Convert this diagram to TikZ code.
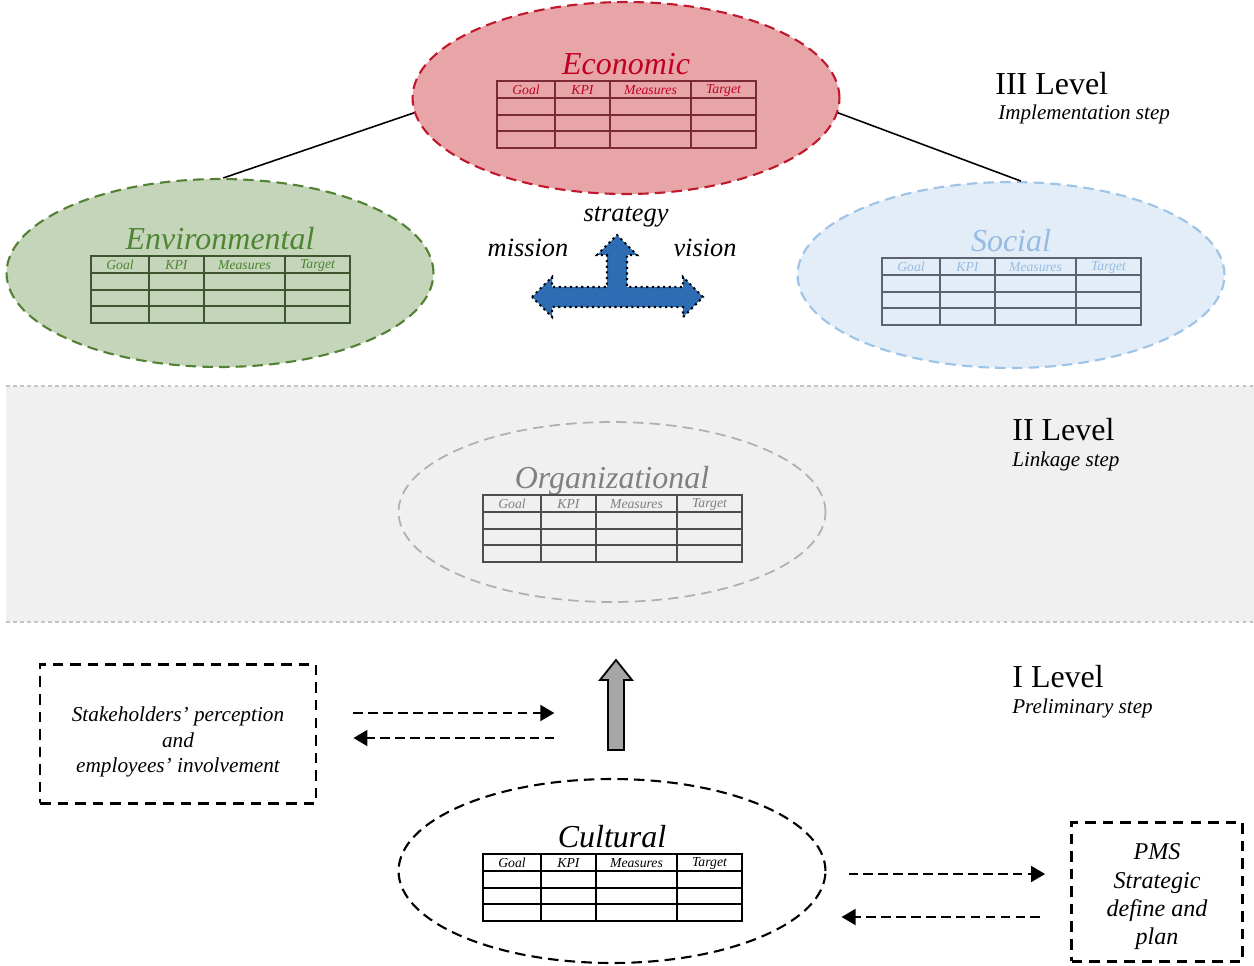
\documentclass[tikz,border=0pt]{standalone}
\usepackage{fontspec}
\setmainfont{Liberation Serif}
\usetikzlibrary{shapes.geometric}
\usetikzlibrary{arrows.meta}
\usetikzlibrary{positioning}
\definecolor{econfill}{HTML}{E8A5A8}
\definecolor{econline}{HTML}{C0182C}
\definecolor{econtext}{HTML}{C00020}
\definecolor{econgrid}{HTML}{7B2B35}
\definecolor{envfill}{HTML}{C4D5B9}
\definecolor{envline}{HTML}{548235}
\definecolor{envtext}{HTML}{4E8533}
\definecolor{envgrid}{HTML}{3E5530}
\definecolor{socfill}{HTML}{E3EDF7}
\definecolor{socline}{HTML}{9DC3E6}
\definecolor{soctext}{HTML}{96BCE3}
\definecolor{socgrid}{HTML}{5C6370}
\definecolor{orgline}{HTML}{B0B0B0}
\definecolor{orgtext}{HTML}{808080}
\definecolor{orggrid}{HTML}{4D4D4D}
\definecolor{bandfill}{HTML}{F0F0F0}
\definecolor{bandline}{HTML}{C4C4C4}
\definecolor{arrowgray}{HTML}{A6A6A6}
\definecolor{arrowblue}{HTML}{2E6DB4}
\newcommand{\kpitable}[3]{%
\begin{scope}[shift={(#1.center)}]
\draw[#2,line width=0.9pt] (-129,-17) rectangle (130,50);
\foreach \x in {-71,-16,65} \draw[#2,line width=0.9pt] (\x,-17) -- (\x,50);
\foreach \y in {0,17,33} \draw[#2,line width=0.9pt] (-129,\y) -- (130,\y);
\foreach \x/\t [count=\i] in {-100/Goal,-43.5/KPI,24.5/Measures,97.5/Target}
\node[kpihead,#3] (#1-h\i) at (\x,-8) {\t};
\end{scope}}

\begin{document}
\begin{tikzpicture}[x=0.02cm,y=-0.02cm]
\tikzset{pillar/.style={ellipse,minimum width=8.54cm,minimum height=3.75cm,line width=1.2pt,dash pattern=on 6pt off 3.5pt},
title/.style={font=\fontsize{18.2}{20}\selectfont\itshape,inner sep=0pt,anchor=base},
kpihead/.style={font=\fontsize{7.8}{8}\selectfont\itshape,inner sep=0pt},
level/.style={font=\fontsize{18.2}{20}\selectfont,inner sep=0pt,anchor=west},
stepname/.style={font=\fontsize{12}{14}\selectfont\itshape,inner sep=0pt,anchor=west},
word/.style={font=\fontsize{15}{17}\selectfont\itshape,inner sep=0pt},
sidebox/.style={rectangle,draw,line width=1.6pt,dash pattern=on 6pt off 4pt,minimum height=2.78cm},
boxtext/.style={align=center,inner sep=0pt},
flow/.style={line width=1.4pt,dash pattern=on 5.5pt off 3pt,-{Triangle[length=8pt,width=9pt]}}}
\useasboundingbox (0,0) rectangle (1254,966);
\fill[bandfill] (6,386) rectangle (1254,622);
\draw[bandline,line width=0.8pt,dash pattern=on 2pt off 2pt] (6,386) -- (1254,386) (6,622) -- (1254,622);
\node[pillar,draw=econline,fill=econfill,minimum height=3.84cm] (econ) at (626,98) {};
\node[pillar,draw=envline,fill=envfill,minimum height=3.76cm] (env) at (220,273) {};
\node[pillar,draw=socline,fill=socfill,minimum height=3.72cm] (soc) at (1011,275) {};
\node[pillar,draw=orgline,line width=1pt,minimum height=3.6cm] (org) at (612,512) {};
\node[pillar,draw=black,minimum height=3.68cm] (cult) at (612,871) {};
\node[title,econtext] (econ-t) at ([yshift=0.48cm]econ.center) {Economic};
\node[title,envtext] (env-t) at ([yshift=0.48cm]env.center) {Environmental};
\node[title,soctext] (soc-t) at ([yshift=0.48cm]soc.center) {Social};
\node[title,orgtext] (org-t) at ([yshift=0.48cm]org.center) {Organizational};
\node[title] (cult-t) at ([yshift=0.48cm]cult.center) {Cultural};
\kpitable{econ}{econgrid}{econtext}
\kpitable{env}{envgrid}{envtext}
\kpitable{soc}{socgrid}{soctext}
\kpitable{org}{orggrid}{orgtext}
\kpitable{cult}{black}{black}
\draw[line width=0.9pt] (econ.184) -- (env.88);
\draw[line width=0.9pt] (econ.-4) -- (soc.84);
\draw[fill=arrowblue,line width=1.2pt,dotted] (532,297) -- (552,277) -- (552,287) -- (607,287) -- (607,255) -- (597,255) -- (617,235) -- (637,255) -- (627,255) -- (627,287) -- (683,287) -- (683,277) -- (703,297) -- (683,317) -- (683,307) -- (552,307) -- (552,317) -- cycle;
\node[word] (strat) at (626,217) {strategy};
\node[word] (miss) at (528,248) {mission};
\node[word] (vis) at (705,248) {vision};
\node[level] (l3) at (995,84) {III Level};
\node[stepname] (s3) at (998,114) {Implementation step};
\node[level] (l2) at (1012,430) {II Level};
\node[stepname] (s2) at (1012,461) {Linkage step};
\node[level] (l1) at (1012,677) {I Level};
\node[stepname] (s1) at (1012,708) {Preliminary step};
\node[sidebox,minimum width=5.52cm] (stake) at (178,734) {};
\node[boxtext,font=\fontsize{12.1}{14.3}\selectfont\itshape] (stake-t) at ([yshift=-0.16cm]stake.center) {Stakeholders’ perception\\and\\employees’ involvement};
\node[sidebox,minimum width=3.42cm] (pms) at (1157,892) {};
\node[boxtext,font=\fontsize{13.7}{16.1}\selectfont\itshape] (pms-t) at ([yshift=-0.1cm]pms.center) {PMS\\Strategic\\define and\\plan};
\draw[flow] ([shift={(36,-21)}]stake.east) -- ++(201,0);
\draw[flow] ([shift={(237,4)}]stake.east) -- ++(-201,0);
\draw[flow] ([shift={(22,3)}]cult.east) -- ([shift={(-25,-18)}]pms.west);
\draw[flow] ([shift={(-30,25)}]pms.west) -- ([shift={(15,46)}]cult.east);
\draw[fill=arrowgray,line width=1pt] (608,750) -- (608,680) -- (600,680) -- (616,660) -- (632,680) -- (624,680) -- (624,750) -- cycle;
\end{tikzpicture}
\end{document}
